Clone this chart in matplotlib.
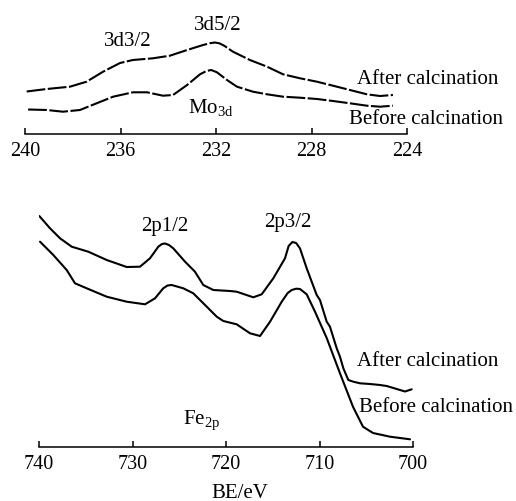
import matplotlib
matplotlib.use("Agg")
import matplotlib.pyplot as plt

plt.rcParams["font.family"] = ["Liberation Serif", "DejaVu Serif"]
plt.rcParams["mathtext.fontset"] = "custom"
plt.rcParams["mathtext.rm"] = "Liberation Serif"
plt.rcParams["mathtext.it"] = "Liberation Serif:italic"

# Mo 3d spectra (binding energy in eV, intensity in arbitrary units)
mo_after_be = [239.93, 239.09, 238.12, 237.42, 236.73, 236.02, 235.48, 234.64, 233.93,
               233.21, 232.54, 232.25, 232.04, 231.85, 231.65, 231.29, 230.58, 229.86,
               229.19, 228.48, 227.77, 227.10, 226.39, 225.68, 225.13, 224.59]
mo_after_int = [42.5, 45, 47.3, 52.3, 62.3, 71, 74, 75.7, 78.3,
                84, 89, 90.8, 91.5, 90.6, 88.2, 82.3, 74, 67.3,
                59.7, 55.7, 52.3, 48.3, 44, 39.7, 38, 39]
mo_before_be = [239.87, 239.09, 238.41, 237.70, 237.00, 236.31, 235.48, 234.89, 234.22,
                233.80, 233.21, 232.67, 232.40, 232.20, 231.96, 231.54, 231.12, 230.45,
                229.86, 229.19, 228.48, 227.77, 227.10, 226.39, 225.68, 225.13, 224.59]
mo_before_int = [24.5, 24, 22.3, 24, 30.7, 37.3, 41.7, 41.7, 38.3,
                 39, 49, 59.7, 63, 64, 61.7, 54, 47.3, 42.3,
                 39.7, 37.3, 36.3, 35, 33, 30.7, 28.3, 27.3, 28.3]
mo_ticks = [240, 236, 232, 228, 224]

# Fe 2p spectra
fe_after_be = [739.97, 738.82, 737.75, 736.50, 734.73, 732.76, 730.62, 729.20, 728.13,
               727.24, 726.85, 726.52, 726.10, 725.64, 724.38, 723.32, 722.43, 721.36,
               719.57, 718.86, 717.08, 716.18, 714.94, 713.69, 713.30, 712.90, 712.50,
               712.09, 711.37, 710.30, 709.95, 709.23, 708.88, 708.16, 707.81, 707.45,
               706.92, 706.38, 705.67, 704.60, 703.53, 702.81, 701.39, 700.86, 700.14]
fe_after_int = [231, 218.7, 208.7, 200.3, 195.3, 187, 180, 180.3, 188.7,
                200.3, 203, 203.5, 202, 198.7, 185.3, 175.3, 162, 157,
                156, 155.3, 149.7, 152.7, 168.7, 188.7, 201, 205, 204,
                198.7, 178.7, 152, 147, 125.3, 120.3, 98.7, 90.3, 78.7,
                67, 65.3, 63.7, 63, 62, 61, 57, 55.5, 57.7]
fe_before_be = [739.89, 738.47, 737.04, 736.15, 734.90, 732.76, 730.62, 728.66, 727.59,
                726.71, 726.25, 725.81, 724.57, 723.50, 722.06, 720.99, 720.29, 718.86,
                717.43, 716.36, 715.29, 714.04, 713.40, 712.97, 712.50, 712.09, 711.37,
                710.48, 709.23, 707.81, 706.42, 705.35, 704.28, 702.46, 700.32]
fe_before_int = [205.3, 192, 177, 163.7, 158.7, 150.3, 145.3, 142.7, 148.7,
                 158.7, 161.5, 162, 158.7, 153.7, 140.3, 130.3, 126, 122.7,
                 113.7, 111, 125.3, 145.3, 154, 157, 158.3, 158, 152.7,
                 135.3, 109, 73.7, 40.3, 20.3, 14, 10.3, 7.7]
fe_ticks = [740, 730, 720, 710, 700]

W, H = 516, 501
fig = plt.figure(figsize=(W / 100, H / 100), dpi=100)
fig.patch.set_facecolor("white")

FS = 15
TFS = 14.5
LINE = dict(color="black", lw=1.5, solid_joinstyle="round",
            dash_joinstyle="round", solid_capstyle="round")


def style_axis(ax, ticks):
    for side in ("left", "right", "top"):
        ax.spines[side].set_visible(False)
    ax.spines["bottom"].set_linewidth(1.1)
    ax.set_yticks([])
    ax.set_xticks(ticks)
    ax.set_xticklabels([str(t) for t in ticks])
    ax.tick_params(axis="x", direction="in", length=4.5, width=1.1,
                   labelsize=TFS, pad=6)
    ax.set_facecolor("none")


# Mo 3d panel
ax1 = fig.add_axes([25 / W, (H - 134) / H, 382 / W, 120 / H])
ax1.plot(mo_after_be, mo_after_int, ls=(0, (9, 1.2)), **LINE)
ax1.plot(mo_before_be, mo_before_int, ls=(0, (9, 1.2)), **LINE)
ax1.set_xlim(240, 224)
ax1.set_ylim(0, 120)
style_axis(ax1, mo_ticks)
ax1.text(235.69, 92, "3d3/2", fontsize=FS, ha="center", va="center")
ax1.text(231.92, 109, "3d5/2", fontsize=FS, ha="center", va="center")
ax1.text(226.09, 55, "After calcination", fontsize=FS, ha="left", va="center")
ax1.text(226.43, 15, "Before calcination", fontsize=FS, ha="left", va="center")
ax1.text(233.17, 27, r"Mo$_{\mathrm{3d}}$", fontsize=FS, ha="left", va="center")

# Fe 2p panel
ax2 = fig.add_axes([39 / W, (H - 447) / H, 374 / W, 240 / H])
ax2.plot(fe_after_be, fe_after_int, **LINE)
ax2.plot(fe_before_be, fe_before_int, **LINE)
ax2.set_xlim(740, 700)
ax2.set_ylim(0, 240)
style_axis(ax2, fe_ticks)
ax2.text(726.52, 221, "2p1/2", fontsize=FS, ha="center", va="center")
ax2.text(713.37, 225, "2p3/2", fontsize=FS, ha="center", va="center")
ax2.text(705.99, 85, "After calcination", fontsize=FS, ha="left", va="center")
ax2.text(705.78, 40, "Before calcination", fontsize=FS, ha="left", va="center")
ax2.text(724.6, 27, r"Fe$_{\mathrm{2p}}$", fontsize=FS, ha="left", va="center")

fig.text(240 / W, 1 - 493 / H, "BE/eV", fontsize=FS, ha="center", va="center")

fig.savefig("out.png", dpi=100, facecolor="white")
